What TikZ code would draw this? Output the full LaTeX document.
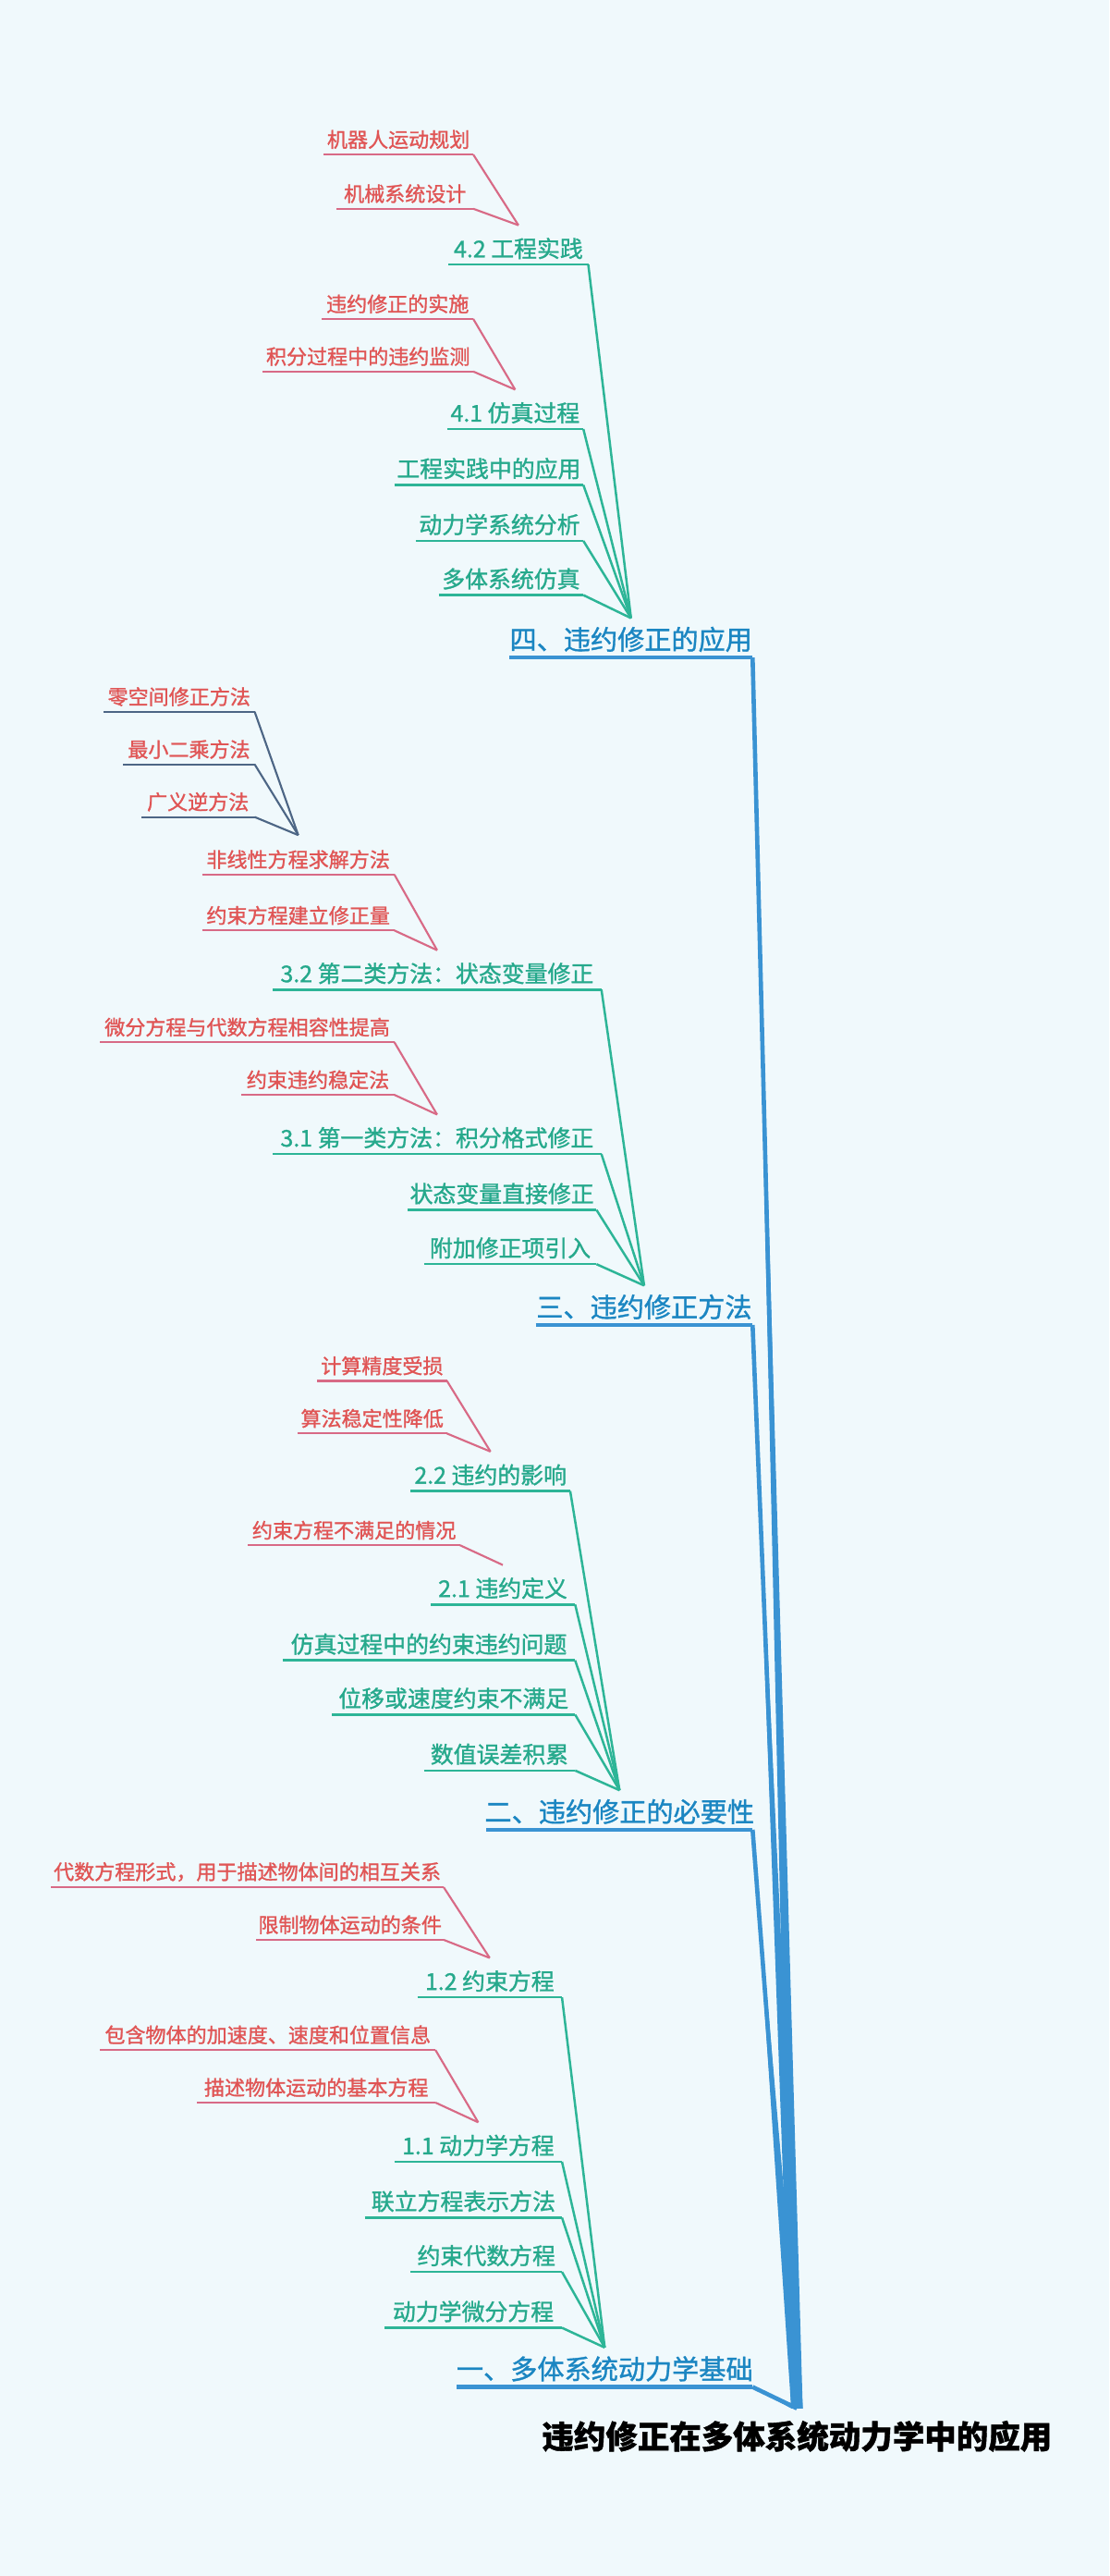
\documentclass[tikz,border=0pt]{standalone}
\usepackage{fontspec}
\setmainfont{Noto Sans CJK SC}[FakeBold=1.2]
\usetikzlibrary{calc}
\definecolor{bg}{HTML}{F0F9FC}
\definecolor{cb}{HTML}{3A93D3}
\definecolor{cbt}{HTML}{1B86C2}
\definecolor{ct}{HTML}{2DB597}
\definecolor{ctt}{HTML}{26A98C}
\definecolor{cr}{HTML}{E05555}
\definecolor{crl}{HTML}{D86A86}
\definecolor{cs}{HTML}{4D6685}
\tikzset{
 lone/.style={text=cbt,font=\fontsize{8.2}{9}\selectfont,inner sep=1.5pt},
 loneline/.style={draw=cb,line width=1.2pt},
 ltwo/.style={text=ctt,font=\fontsize{7}{8}\selectfont,inner sep=1.5pt},
 ltwoline/.style={draw=ct,line width=0.7pt},
 lthr/.style={text=cr,font=\fontsize{6.2}{7}\selectfont,inner sep=1.5pt},
 lthrline/.style={draw=crl,line width=0.6pt},
 lfour/.style={text=cr,font=\fontsize{6.2}{7}\selectfont,inner sep=1.5pt},
 lfourline/.style={draw=cs,line width=0.6pt},
}
\newcommand\mn[6]{%
 \coordinate (#1L) at (#2,#4); \coordinate (#1R) at (#3,#4);
 \coordinate (#1C) at ({(#2+#3)/2},{#4-24});
 \node[#5,anchor=south] (#1) at ({(#2+#3)/2},#4) {#6};
 \draw[#5line] (#1L)--(#1R);}
\newcommand\lk[3]{\draw[#3line] (#1R) -- (#2C);}
\newcommand\mwedge[1]{\fill[cb] ($(rootP)+(-3.5,0)$) -- (#1R) -- ($(rootP)+(3.5,0)$) -- cycle;
 \draw[cb,line width=1.3pt] (rootP) -- (#1R);}
\begin{document}
\begin{tikzpicture}[x=0.5pt,y=-0.5pt]
\fill[bg] (0,0) rectangle (675,1567);
\useasboundingbox (0,0) rectangle (675,1567);
\coordinate (rootP) at (485,1465);
\node[font=\fontsize{9.7}{11}\selectfont\bfseries,anchor=center] (root) at (485,1482) {违约修正在多体系统动力学中的应用};
% level 1
\mn{A}{310}{458}{400}{lone}{四、违约修正的应用}
\mn{B}{326}{458}{806}{lone}{三、违约修正方法}
\mn{Cc}{296}{458}{1113}{lone}{二、违约修正的必要性}
\mn{D}{278}{458}{1452}{lone}{一、多体系统动力学基础}
\mwedge{A}\mwedge{B}\mwedge{Cc}\mwedge{D}
% group 4
\mn{A2}{273}{358}{161}{ltwo}{4.2 工程实践}
\mn{A1}{272}{355}{261}{ltwo}{4.1 仿真过程}
\mn{A3}{240}{355}{295}{ltwo}{工程实践中的应用}
\mn{A4}{253}{355}{329}{ltwo}{动力学系统分析}
\mn{A5}{267}{355}{362}{ltwo}{多体系统仿真}
\foreach \n in {A2,A1,A3,A4,A5} {\lk{\n}{A}{ltwo}}
\mn{A2a}{197}{288}{94}{lthr}{机器人运动规划}
\mn{A2b}{205}{288}{127}{lthr}{机械系统设计}
\lk{A2a}{A2}{lthr}\lk{A2b}{A2}{lthr}
\mn{A1a}{196}{288}{194}{lthr}{违约修正的实施}
\mn{A1b}{160}{288}{226}{lthr}{积分过程中的违约监测}
\lk{A1a}{A1}{lthr}\lk{A1b}{A1}{lthr}
% group 3
\mn{B2}{166}{366}{602}{ltwo}{3.2 第二类方法：状态变量修正}
\mn{B1}{166}{366}{702}{ltwo}{3.1 第一类方法：积分格式修正}
\mn{B3}{248}{363}{736}{ltwo}{状态变量直接修正}
\mn{B4}{258}{363}{769}{ltwo}{附加修正项引入}
\foreach \n in {B2,B1,B3,B4} {\lk{\n}{B}{ltwo}}
\mn{B2a}{123}{240}{532}{lthr}{非线性方程求解方法}
\mn{B2b}{123}{240}{566}{lthr}{约束方程建立修正量}
\lk{B2a}{B2}{lthr}\lk{B2b}{B2}{lthr}
\mn{B2a1}{63}{155}{433}{lfour}{零空间修正方法}
\mn{B2a2}{75}{155}{465}{lfour}{最小二乘方法}
\mn{B2a3}{86}{155}{497}{lfour}{广义逆方法}
\foreach \n in {B2a1,B2a2,B2a3} {\lk{\n}{B2a}{lfour}}
\mn{B1a}{61}{240}{634}{lthr}{微分方程与代数方程相容性提高}
\mn{B1b}{147}{240}{666}{lthr}{约束违约稳定法}
\lk{B1a}{B1}{lthr}\lk{B1b}{B1}{lthr}
% group 2
\mn{C2}{250}{347}{907}{ltwo}{2.2 违约的影响}
\mn{C1}{262}{350}{976}{ltwo}{2.1 违约定义}
\mn{C3}{172}{350}{1010}{ltwo}{仿真过程中的约束违约问题}
\mn{C4}{202}{350}{1043}{ltwo}{位移或速度约束不满足}
\mn{C5}{258}{350}{1077}{ltwo}{数值误差积累}
\foreach \n in {C2,C1,C3,C4,C5} {\lk{\n}{Cc}{ltwo}}
\mn{C2a}{193}{272}{840}{lthr}{计算精度受损}
\mn{C2b}{181}{272}{872}{lthr}{算法稳定性降低}
\lk{C2a}{C2}{lthr}\lk{C2b}{C2}{lthr}
\mn{C1a}{151}{280}{940}{lthr}{约束方程不满足的情况}
\lk{C1a}{C1}{lthr}
% group 1
\mn{D2}{254}{342}{1215}{ltwo}{1.2 约束方程}
\mn{D1}{240}{342}{1315}{ltwo}{1.1 动力学方程}
\mn{D3}{222}{342}{1349}{ltwo}{联立方程表示方法}
\mn{D4}{250}{342}{1382}{ltwo}{约束代数方程}
\mn{D5}{234}{342}{1416}{ltwo}{动力学微分方程}
\foreach \n in {D2,D1,D3,D4,D5} {\lk{\n}{D}{ltwo}}
\mn{D2a}{31}{270}{1148}{lthr}{代数方程形式，用于描述物体间的相互关系}
\mn{D2b}{156}{270}{1180}{lthr}{限制物体运动的条件}
\lk{D2a}{D2}{lthr}\lk{D2b}{D2}{lthr}
\mn{D1a}{61}{265}{1247}{lthr}{包含物体的加速度、速度和位置信息}
\mn{D1b}{120}{265}{1279}{lthr}{描述物体运动的基本方程}
\lk{D1a}{D1}{lthr}\lk{D1b}{D1}{lthr}
\end{tikzpicture}
\end{document}
